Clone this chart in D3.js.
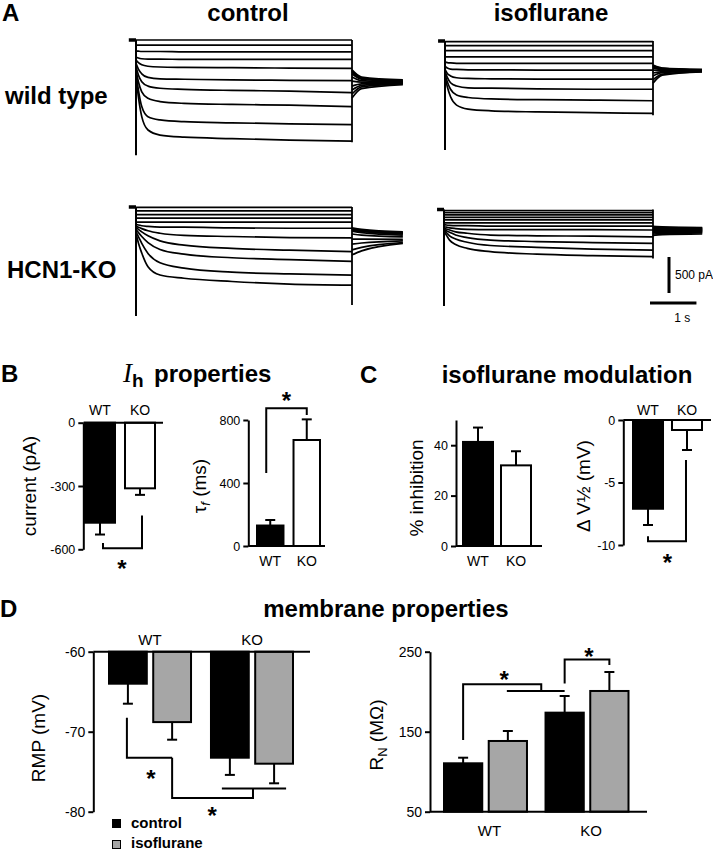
<!DOCTYPE html>
<html lang="en">
<head>
<meta charset="utf-8">
<title>Ih and isoflurane, WT vs HCN1-KO</title>
<script src="https://d3js.org/d3.v7.min.js"></script>
<style>
body { margin: 0; background: #fff; }
svg text { font-family: "Liberation Sans", Arial, sans-serif; fill: #000; }
</style>
</head>
<body>
<div id="container"></div>
<script>
// ---------- data ----------
// A: current traces (pA), sampled at traceTime (s) during the step, tails at tailTime (s)
const traceTime = [0, 0.05, 0.12, 0.25, 0.5, 1, 2, 3.2, 4.5];
const tailTime = [0, 0.2, 1.06];
const pulseDur = 4.5;
const preDur = 0.15;

const wtControl = [
  [0, 0, 0, 0, 0, 0, 0, 0, 0],
  [-70, -70, -70, -70, -70, -70, -70, -70, -70],
  [-150, -155, -160, -160, -160, -165, -165, -165, -165],
  [-235, -250, -260, -265, -265, -270, -270, -270, -270],
  [-280, -315, -345, -365, -375, -380, -385, -390, -395],
  [-325, -405, -470, -520, -540, -545, -555, -560, -565],
  [-370, -485, -580, -640, -670, -685, -700, -710, -730],
  [-415, -580, -720, -810, -855, -880, -895, -905, -925],
  [-465, -695, -925, -1065, -1110, -1135, -1150, -1165, -1175],
  [-510, -790, -1065, -1250, -1320, -1350, -1370, -1390, -1405]
];
const wtControlTail = [
  [-415, -515, -555], [-430, -525, -565], [-445, -535, -570], [-470, -545, -580],
  [-515, -565, -585], [-570, -585, -590], [-640, -610, -595], [-695, -630, -600],
  [-750, -650, -610], [-805, -675, -620]
];
const wtIso = [
  [-10, -10, -10, -10, -10, -10, -10, -10, -10],
  [-65, -65, -65, -65, -65, -65, -65, -65, -65],
  [-135, -135, -135, -135, -135, -135, -135, -135, -135],
  [-220, -220, -220, -220, -220, -220, -220, -220, -220],
  [-290, -300, -305, -310, -310, -310, -310, -310, -310],
  [-355, -375, -390, -395, -400, -400, -405, -405, -405],
  [-395, -450, -485, -510, -520, -525, -530, -530, -530],
  [-425, -505, -580, -625, -650, -655, -665, -670, -670],
  [-460, -565, -670, -750, -785, -805, -815, -820, -830],
  [-495, -635, -775, -890, -945, -970, -985, -995, -1005]
];
const wtIsoTail = [
  [-335, -375, -395], [-340, -380, -400], [-345, -385, -400], [-360, -390, -405],
  [-375, -400, -410], [-405, -410, -410], [-445, -425, -415], [-485, -440, -420],
  [-540, -460, -425], [-585, -475, -430]
];
const koControl = [
  [-5, -5, -5, -5, -5, -5, -5, -5, -5],
  [-55, -55, -55, -55, -55, -55, -55, -55, -55],
  [-105, -105, -105, -105, -105, -105, -105, -105, -105],
  [-155, -155, -155, -155, -155, -155, -155, -155, -155],
  [-210, -210, -210, -210, -210, -210, -210, -210, -210],
  [-240, -250, -260, -270, -280, -280, -290, -295, -295],
  [-265, -280, -300, -330, -365, -395, -410, -425, -430],
  [-280, -310, -345, -400, -470, -530, -575, -600, -620],
  [-310, -355, -410, -495, -590, -655, -705, -730, -755],
  [-345, -410, -505, -645, -775, -850, -905, -930, -945],
  [-365, -500, -640, -830, -945, -990, -1035, -1070, -1085]
];
const koControlTail = [
  [-290, -310, -345], [-300, -320, -355], [-305, -325, -360], [-310, -330, -370],
  [-320, -340, -375], [-335, -355, -390], [-375, -390, -415], [-445, -445, -450],
  [-515, -500, -470], [-595, -560, -495], [-665, -610, -505]
];
const koIso = [
  [-15, -15, -15, -15, -15, -15, -15, -15, -15],
  [-45, -45, -45, -45, -45, -45, -45, -45, -45],
  [-75, -75, -75, -75, -75, -75, -75, -75, -75],
  [-110, -110, -110, -110, -110, -110, -110, -110, -110],
  [-145, -145, -145, -145, -145, -145, -145, -145, -145],
  [-185, -185, -185, -185, -185, -185, -185, -185, -185],
  [-210, -215, -220, -225, -225, -230, -230, -230, -230],
  [-240, -245, -255, -265, -275, -280, -280, -280, -285],
  [-260, -270, -285, -310, -330, -355, -365, -370, -380],
  [-275, -295, -315, -355, -390, -425, -445, -460, -470],
  [-295, -320, -365, -410, -455, -500, -525, -550, -565],
  [-310, -355, -425, -485, -540, -585, -620, -640, -655]
];
const koIsoTail = [
  [-235, -240, -250], [-245, -250, -255], [-250, -255, -265], [-255, -260, -270],
  [-265, -270, -280], [-270, -275, -285], [-280, -285, -290], [-290, -295, -300],
  [-305, -305, -305], [-320, -320, -315], [-340, -335, -325], [-360, -350, -340]
];
// capacitive transients at step onset / offset (pA)
const onsetPeak = [-1600, -1515, -1515, -1340];
const offsetPeak = [-1420, -1030, -1360, -680];
const scaleBarCurrent = 500; // pA
const scaleBarTime = 1;      // s

// B, C: WT vs KO
const genotypes = ["WT", "KO"];
const ihCurrent = [-474, -311];
const ihCurrentErr = [-530, -342];
const ihCurrentTicks = [0, -300, -600];
const ihCurrentSig = [-570, -595, -440];
const tauF = [130, 673];
const tauFErr = [165, 804];
const tauFTicks = [0, 400, 800];
const tauFSig = [463, 874, 832];
const inhibition = [41.3, 32.0];
const inhibitionErr = [47.0, 37.6];
const inhibitionTicks = [0, 20, 40];
const shiftV = [-7.1, -0.8];
const shiftVErr = [-8.4, -2.4];
const shiftVTicks = [0, -5, -10];
const shiftVSig = [-9.3, -9.7, -3.2];

// D: membrane properties, [WT, KO] x [control, isoflurane]
const conditions = ["control", "isoflurane"];
const rmp = [[-64.0, -68.8], [-73.25, -74.0]];
const rmpErr = [[-66.5, -71.0], [-75.4, -76.45]];
const rmpTicks = [-60, -70, -80];
const rmpSig = [-68.25, -73.25, -78.3, -77.1];
const rn = [[110.5, 138.4], [173.8, 200.9]];
const rnErr = [[117.5, 150.9], [194.6, 224.6]];
const rnTicks = [50, 150, 250];
const rnSig = [139.6, 209.3, 200.9, 210.4, 240.4, 233.4];

// ---------- drawing ----------
const width = 713, height = 852;
const px500 = 36;
const black = "#000", grey = "#a6a6a6";

const svg = d3.select("#container").append("svg")
  .attr("width", width)
  .attr("height", height)
  .attr("viewBox", "0 0 " + width + " " + height);

function label(x, y, txt, size, opts) {
  opts = opts || {};
  return svg.append("text")
    .attr("x", x).attr("y", y)
    .attr("font-size", size)
    .attr("font-weight", opts.bold ? "bold" : "normal")
    .attr("text-anchor", opts.anchor || "start")
    .text(txt);
}
function vlabel(x, y, size) {
  return svg.append("text")
    .attr("transform", "translate(" + x + "," + y + ") rotate(-90)")
    .attr("text-anchor", "middle")
    .attr("font-size", size);
}
function star(x, y) {
  // y is the visual centre of the asterisk
  label(x, y + 13.5, "*", 24, {bold: true, anchor: "middle"});
}
function poly(pts) {
  svg.append("path")
    .attr("d", d3.line()(pts))
    .attr("fill", "none").attr("stroke", black).attr("stroke-width", 2);
}

// ----- panel A -----
label(2, 21, "A", 24, {bold: true});
label(248, 21, "control", 24, {bold: true, anchor: "middle"});
label(551, 21, "isoflurane", 24, {bold: true, anchor: "middle"});
label(5, 104, "wild type", 24, {bold: true});
label(7, 278, "HCN1-KO", 24, {bold: true});

const tracePanels = [
  {steps: wtControl, tails: wtControlTail, x0: 136, x1: 352, top: 40},
  {steps: wtIso, tails: wtIsoTail, x0: 445, x1: 653, top: 41},
  {steps: koControl, tails: koControlTail, x0: 136, x1: 352, top: 207},
  {steps: koIso, tails: koIsoTail, x0: 444, x1: 653, top: 209.5}
];

let lastScales = null;
tracePanels.forEach(function(p, k) {
  const x = d3.scaleLinear().domain([0, pulseDur]).range([p.x0, p.x1]);
  const y = d3.scaleLinear().domain([0, -500]).range([p.top, p.top + px500]);
  const g = svg.append("g").attr("fill", "none").attr("stroke", black);

  g.append("line")
    .attr("x1", x(-preDur)).attr("x2", x(0))
    .attr("y1", y(0)).attr("y2", y(0))
    .attr("stroke-width", 3.5);
  g.append("line")
    .attr("x1", x(0)).attr("x2", x(0))
    .attr("y1", y(0)).attr("y2", y(onsetPeak[k]))
    .attr("stroke-width", 2);

  const stepLine = d3.line()
    .x(function(d, i) { return x(traceTime[i]); })
    .y(function(d) { return y(d); })
    .curve(d3.curveMonotoneX);
  g.selectAll("path.step").data(p.steps).enter().append("path")
    .attr("class", "step")
    .attr("d", stepLine)
    .attr("stroke-width", 1.7);

  g.append("line")
    .attr("x1", x(pulseDur)).attr("x2", x(pulseDur))
    .attr("y1", y(0)).attr("y2", y(offsetPeak[k]))
    .attr("stroke-width", 1.8);

  const tailLine = d3.line()
    .x(function(d, i) { return x(pulseDur + tailTime[i]); })
    .y(function(d) { return y(d); })
    .curve(d3.curveMonotoneX);
  g.selectAll("path.tail").data(p.tails).enter().append("path")
    .attr("class", "tail")
    .attr("d", tailLine)
    .attr("stroke-width", 1.7);

  lastScales = {x: x, y: y};
});

// scale bars (use the isoflurane KO panel scales)
(function() {
  const x = lastScales.x, y = lastScales.y;
  const barLen = y(-scaleBarCurrent) - y(0);
  const tLen = x(scaleBarTime) - x(0);
  const vx = 669, vy = 257, hy = 303, hx = 650;
  svg.append("line").attr("x1", vx).attr("x2", vx).attr("y1", vy).attr("y2", vy + barLen)
    .attr("stroke", black).attr("stroke-width", 3);
  svg.append("line").attr("x1", hx).attr("x2", hx + tLen).attr("y1", hy).attr("y2", hy)
    .attr("stroke", black).attr("stroke-width", 3);
  label(vx + 6, vy + 22, scaleBarCurrent + " pA", 12);
  label(hx + tLen / 2 + 9, hy + 19, scaleBarTime + " s", 12, {anchor: "middle"});
})();

// ----- bar chart helpers -----
function leftAxis(axisX, y, ticks, size) {
  const g = svg.append("g").attr("transform", "translate(" + axisX + ",0)");
  g.call(d3.axisLeft(y).tickValues(ticks).tickSize(5).tickSizeOuter(0).tickPadding(3)
    .tickFormat(function(d) { return String(d); }));
  g.select(".domain").attr("stroke", black).attr("stroke-width", 2);
  g.selectAll(".tick line").attr("stroke", black).attr("stroke-width", 2);
  g.selectAll(".tick text").attr("font-size", size).attr("fill", black)
    .attr("font-family", "\"Liberation Sans\", Arial, sans-serif");
  return g;
}
function errBar(x, y0, y1) {
  svg.append("line").attr("x1", x).attr("x2", x).attr("y1", y0).attr("y2", y1)
    .attr("stroke", black).attr("stroke-width", 2);
  svg.append("line").attr("x1", x - 5).attr("x2", x + 5).attr("y1", y1).attr("y2", y1)
    .attr("stroke", black).attr("stroke-width", 2);
}

function simpleChart(c) {
  const y = d3.scaleLinear().domain(c.domain).range(c.range);
  const x = d3.scaleBand().domain(genotypes).range(c.band).paddingInner(c.pad).paddingOuter(0);
  const base = y(c.base);
  c.values.forEach(function(v, i) {
    const cx = x(genotypes[i]) + x.bandwidth() / 2;
    errBar(cx, y(v), y(c.err[i]));
  });
  svg.selectAll(null).data(c.values).enter().append("rect")
    .attr("x", function(d, i) { return x(genotypes[i]) + 1; })
    .attr("width", x.bandwidth() - 2)
    .attr("y", function(d) { return Math.min(y(d), base); })
    .attr("height", function(d) { return Math.abs(y(d) - base); })
    .attr("fill", function(d, i) { return i === 0 ? black : "#fff"; })
    .attr("stroke", black).attr("stroke-width", 2);
  svg.append("line").attr("x1", c.axisX).attr("x2", c.baseEnd).attr("y1", base).attr("y2", base)
    .attr("stroke", black).attr("stroke-width", 2);
  leftAxis(c.axisX, y, c.ticks, c.tickSize);
  genotypes.forEach(function(gname) {
    label(x(gname) + x.bandwidth() / 2, c.catY, gname, 14, {anchor: "middle"});
  });
  return {x: x, y: y, cx: function(k) { return x(k) + x.bandwidth() / 2; }};
}

function groupedChart(c) {
  const y = d3.scaleLinear().domain(c.domain).range(c.range);
  const x0 = d3.scaleBand().domain(genotypes).range(c.band).paddingInner(c.pad).paddingOuter(0);
  const x1 = d3.scaleBand().domain(conditions).range([0, x0.bandwidth()]).paddingInner(0.1);
  const base = y(c.base);
  const cx = function(gname, cond) { return x0(gname) + x1(cond) + x1.bandwidth() / 2; };
  genotypes.forEach(function(gname, i) {
    conditions.forEach(function(cond, j) {
      errBar(cx(gname, cond), y(c.values[i][j]), y(c.err[i][j]));
    });
  });
  const groups = svg.selectAll(null).data(c.values).enter().append("g")
    .attr("transform", function(d, i) { return "translate(" + x0(genotypes[i]) + ",0)"; });
  groups.selectAll("rect").data(function(d) { return d; }).enter().append("rect")
    .attr("x", function(d, j) { return x1(conditions[j]) + 1; })
    .attr("width", x1.bandwidth() - 2)
    .attr("y", function(d) { return Math.min(y(d), base); })
    .attr("height", function(d) { return Math.abs(y(d) - base); })
    .attr("fill", function(d, j) { return j === 0 ? black : grey; })
    .attr("stroke", black).attr("stroke-width", 2);
  svg.append("line").attr("x1", c.axisX).attr("x2", c.baseEnd).attr("y1", base).attr("y2", base)
    .attr("stroke", black).attr("stroke-width", 2);
  leftAxis(c.axisX, y, c.ticks, 14);
  genotypes.forEach(function(gname) {
    label(x0(gname) + x0.bandwidth() / 2 + c.catDx, c.catY, gname, 15, {anchor: "middle"});
  });
  return {x0: x0, x1: x1, y: y, cx: cx,
          gx: function(gname) { return x0(gname) + x0.bandwidth() / 2; }};
}

// ----- panel B -----
label(1, 382, "B", 24, {bold: true});
(function() {
  const t = svg.append("text").attr("x", 123).attr("y", 382);
  t.append("tspan").attr("font-family", "\"Liberation Serif\", \"Times New Roman\", serif")
    .attr("font-style", "italic").attr("font-size", 27).text("I");
  t.append("tspan").attr("font-weight", "bold").attr("font-size", 19).attr("dy", 5).text("h");
  t.append("tspan").attr("x", 154).attr("dy", -5).attr("font-weight", "bold").attr("font-size", 24)
    .text("properties");
})();

const cB1 = simpleChart({
  domain: [-600, 0], range: [549.3, 422.7], band: [84, 156], pad: 0.2,
  values: ihCurrent, err: ihCurrentErr, base: 0, axisX: 83.3, baseEnd: 163,
  ticks: ihCurrentTicks, tickSize: 12.5, catY: 415
});
poly([[cB1.cx("WT") + 3, cB1.y(ihCurrentSig[0])], [cB1.cx("WT") + 3, cB1.y(ihCurrentSig[1])],
      [cB1.cx("KO") + 2, cB1.y(ihCurrentSig[1])], [cB1.cx("KO") + 2, cB1.y(ihCurrentSig[2])]]);
star((cB1.cx("WT") + cB1.cx("KO")) / 2 + 2, cB1.y(ihCurrentSig[1]) + 15);
vlabel(36, 486, 19).text("current (pA)");

const cB2 = simpleChart({
  domain: [0, 800], range: [546, 420], band: [256, 321], pad: 0.22,
  values: tauF, err: tauFErr, base: 0, axisX: 248.3, baseEnd: 325,
  ticks: tauFTicks, tickSize: 12.5, catY: 566
});
poly([[cB2.cx("WT") - 4, cB2.y(tauFSig[0])], [cB2.cx("WT") - 4, cB2.y(tauFSig[1])],
      [cB2.cx("KO"), cB2.y(tauFSig[1])], [cB2.cx("KO"), cB2.y(tauFSig[2])]]);
star((cB2.cx("WT") + cB2.cx("KO")) / 2 - 2, cB2.y(tauFSig[1]) - 13);
(function() {
  const t = vlabel(206, 486, 19);
  t.append("tspan").text("\u03c4");
  t.append("tspan").attr("font-size", 13).attr("font-style", "italic").attr("dy", 4).text("f");
  t.append("tspan").attr("dy", -4).text(" (ms)");
})();

// ----- panel C -----
label(360, 383, "C", 24, {bold: true});
label(567, 383, "isoflurane modulation", 24, {bold: true, anchor: "middle"});

simpleChart({
  domain: [0, 50], range: [546, 420], band: [462, 532], pad: 0.158,
  values: inhibition, err: inhibitionErr, base: 0, axisX: 456, baseEnd: 542,
  ticks: inhibitionTicks, tickSize: 12.5, catY: 566
});
vlabel(423, 488, 19).text("% inhibition");

const cC2 = simpleChart({
  domain: [-10, 0], range: [545, 420], band: [632, 703], pad: 0.179,
  values: shiftV, err: shiftVErr, base: 0, axisX: 623.3, baseEnd: 711,
  ticks: shiftVTicks, tickSize: 12.5, catY: 415
});
poly([[cC2.cx("WT"), cC2.y(shiftVSig[0])], [cC2.cx("WT"), cC2.y(shiftVSig[1])],
      [cC2.cx("KO") - 1, cC2.y(shiftVSig[1])], [cC2.cx("KO") - 1, cC2.y(shiftVSig[2])]]);
star((cC2.cx("WT") + cC2.cx("KO")) / 2, cC2.y(shiftVSig[1]) + 16.5);
vlabel(590, 486, 19).text("\u0394 V\u00bd (mV)");

// ----- panel D -----
label(0, 617, "D", 24, {bold: true});
label(386, 617, "membrane properties", 24, {bold: true, anchor: "middle"});

const cD1 = groupedChart({
  domain: [-80, -60], range: [811.7, 651.7], band: [108, 294], pad: 0.176,
  values: rmp, err: rmpErr, base: -60, axisX: 93.3, baseEnd: 310,
  ticks: rmpTicks, catY: 645, catDx: 0
});
poly([[cD1.cx("WT", "control") - 1, cD1.y(rmpSig[0])], [cD1.cx("WT", "control") - 1, cD1.y(rmpSig[1])],
      [cD1.cx("WT", "isoflurane"), cD1.y(rmpSig[1])]]);
poly([[cD1.cx("WT", "isoflurane"), cD1.y(rmpSig[1])], [cD1.cx("WT", "isoflurane"), cD1.y(rmpSig[2])],
      [cD1.gx("KO") + 1, cD1.y(rmpSig[2])], [cD1.gx("KO") + 1, cD1.y(rmpSig[3])]]);
poly([[cD1.cx("KO", "control") - 8, cD1.y(rmpSig[3])], [cD1.cx("KO", "isoflurane") + 12, cD1.y(rmpSig[3])]]);
star((cD1.cx("WT", "control") + cD1.cx("WT", "isoflurane")) / 2 + 1, cD1.y(rmpSig[1]) + 15.5);
star((cD1.cx("WT", "isoflurane") + cD1.gx("KO")) / 2, cD1.y(rmpSig[2]) + 12.5);
vlabel(45, 738, 19).text("RMP (mV)");

// legend
svg.append("rect").attr("x", 112).attr("y", 819).attr("width", 9).attr("height", 9).attr("fill", black);
svg.append("rect").attr("x", 112.5).attr("y", 840.5).attr("width", 8).attr("height", 8)
  .attr("fill", grey).attr("stroke", black).attr("stroke-width", 1);
label(131, 828, conditions[0], 15, {bold: true});
label(131, 848, conditions[1], 15, {bold: true});

const cD2 = groupedChart({
  domain: [50, 250], range: [811.7, 651.7], band: [443, 629.5], pad: 0.163,
  values: rn, err: rnErr, base: 50, axisX: 430, baseEnd: 647,
  ticks: rnTicks, catY: 836, catDx: 4
});
(function() {
  const mid = (cD2.cx("WT", "isoflurane") + cD2.cx("KO", "control")) / 2 + 5;
  poly([[cD2.cx("WT", "control"), cD2.y(rnSig[0])], [cD2.cx("WT", "control"), cD2.y(rnSig[1])],
        [mid, cD2.y(rnSig[1])], [mid, cD2.y(rnSig[2])]]);
  poly([[cD2.cx("WT", "isoflurane") - 1, cD2.y(rnSig[2])], [cD2.cx("KO", "control"), cD2.y(rnSig[2])]]);
  poly([[cD2.cx("KO", "control"), cD2.y(rnSig[3])], [cD2.cx("KO", "control"), cD2.y(rnSig[4])],
        [cD2.cx("KO", "isoflurane"), cD2.y(rnSig[4])], [cD2.cx("KO", "isoflurane"), cD2.y(rnSig[5])]]);
  star((cD2.cx("WT", "control") + mid) / 2 + 2, cD2.y(rnSig[1]) - 9.5);
  star((cD2.cx("KO", "control") + cD2.cx("KO", "isoflurane")) / 2 + 2, cD2.y(rnSig[4]) - 8);
})();
(function() {
  const t = vlabel(383, 735, 19);
  t.append("tspan").text("R");
  t.append("tspan").attr("font-size", 13).attr("dy", 4).text("N");
  t.append("tspan").attr("dy", -4).text(" (M\u03a9)");
})();
</script>
</body>
</html>
